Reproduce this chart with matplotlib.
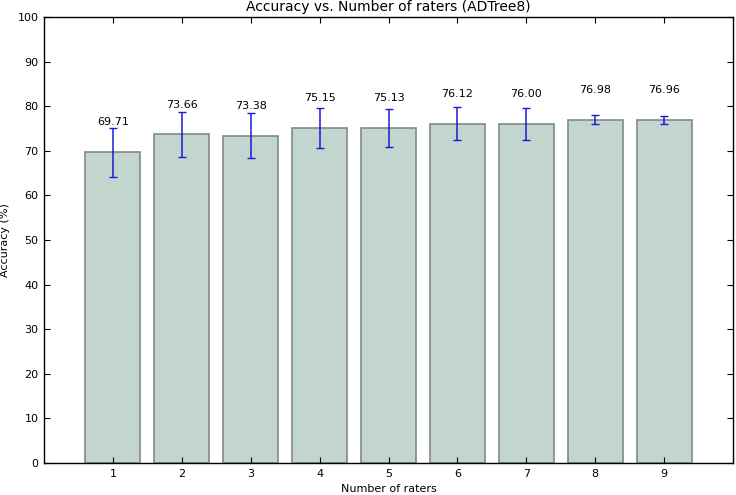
import numpy as np
import matplotlib
matplotlib.use('Agg')
import matplotlib.pyplot as plt

raters = [1, 2, 3, 4, 5, 6, 7, 8, 9]
accuracy = [69.71, 73.66, 73.38, 75.15, 75.13, 76.12, 76.00, 76.98, 76.96]
errors = [5.5, 5.0, 5.1, 4.5, 4.3, 3.7, 3.65, 0.95, 0.95]

plt.rcParams['font.family'] = 'DejaVu Sans'
plt.rcParams['font.size'] = 8

fig = plt.figure(figsize=(7.36, 4.95), dpi=100)
ax = fig.add_axes([44 / 736, 32 / 495, 689 / 736, 446 / 495])

ax.bar(raters, accuracy, width=0.8, color='#c2d6cf', edgecolor='#7f8a86',
       linewidth=1.2, yerr=errors, error_kw=dict(ecolor='#1a1ad8', elinewidth=1.1,
                                                  capsize=3, capthick=1))

for x, v in zip(raters, accuracy):
    ax.text(x, v + 5.6, '%.2f' % v, ha='center', va='bottom', fontsize=8)

ax.set_xlim(0, 10)
ax.set_ylim(0, 100)
ax.set_xticks(raters)
ax.set_yticks(np.arange(0, 101, 10))
ax.tick_params(direction='in', top=True, right=True, length=4, width=0.8,
               pad=4, labelsize=8)
for s in ax.spines.values():
    s.set_linewidth(1.0)

ax.set_xlabel('Number of raters', fontsize=8, labelpad=4)
ax.set_ylabel('Accuracy (%)', fontsize=8, labelpad=5)
ax.set_title('Accuracy vs. Number of raters (ADTree8)', fontsize=10, pad=4)

plt.savefig('out.png', dpi=100)
